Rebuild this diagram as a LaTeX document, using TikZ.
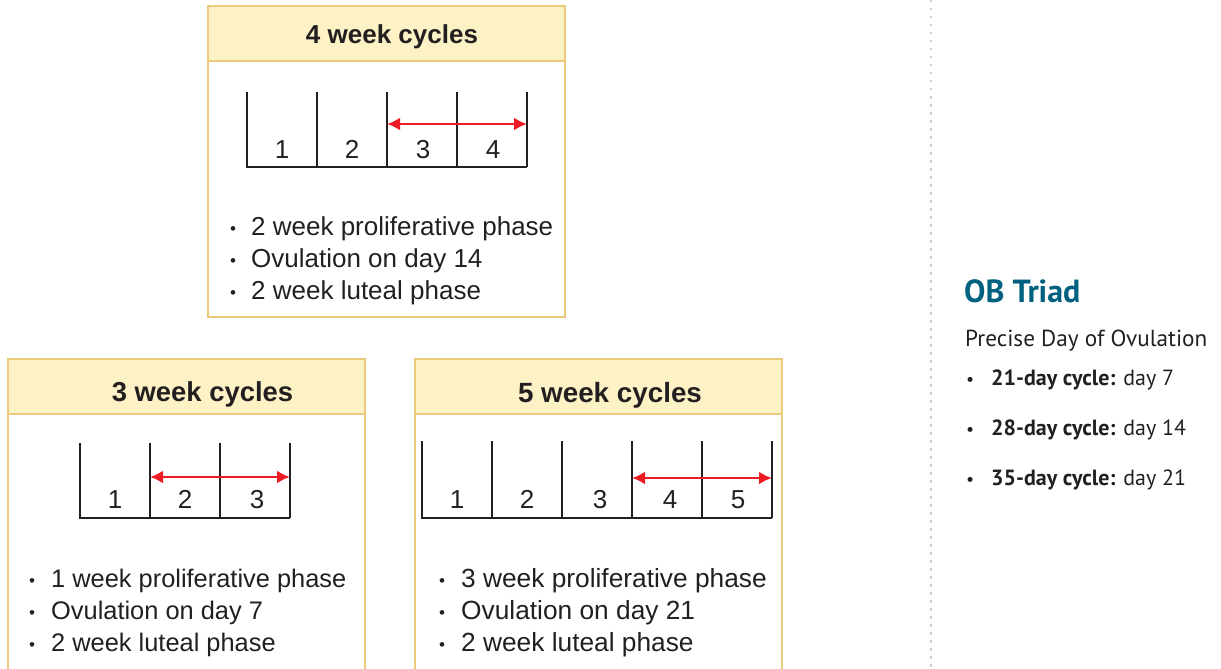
\documentclass[tikz,border=0pt]{standalone}
\usepackage{fontspec}
\setmainfont{Liberation Sans}
\newfontfamily\sidefont{PT Sans}
\usepackage{tikz}
\usetikzlibrary{positioning, calc, arrows.meta}
\definecolor{headfill}{HTML}{FDF2C6}
\definecolor{boxline}{HTML}{EBCB7B}
\definecolor{inkgrey}{HTML}{231F20}
\definecolor{spanred}{HTML}{ED1C24}
\definecolor{triadblue}{HTML}{00607F}
\definecolor{dotgrey}{HTML}{CDCDCD}
\tikzset{
  cyclebox/.style={draw=boxline, line width=2pt},
  cyclehead/.style={cyclebox, fill=headfill, inner sep=0pt},
  headtext/.style={text=inkgrey, font=\fontsize{#1}{30}\selectfont\bfseries, inner sep=0pt, anchor=base},
  headtext/.default=26,
  weektext/.style={text=inkgrey, font=\fontsize{#1}{30}\selectfont, inner sep=0pt},
  weektext/.default=26,
  cellline/.style={draw=inkgrey, line width=1.5pt},
  spanarrow/.style={draw=spanred, line width=2.8pt, {Latex[length=13pt,width=13pt]}-{Latex[length=13pt,width=13pt]}},
  sidetext/.style={text=inkgrey, font=\sidefont\fontsize{#1}{26}\selectfont, inner sep=0pt, anchor=base west},
  sidetext/.default=23.2
}
\newcommand{\blt}[1]{\makebox[#1][l]{\fontsize{17}{17}\selectfont\raisebox{1pt}{•}}}
\begin{document}
\begin{tikzpicture}[x=1pt, y=-1pt]
\useasboundingbox (0,0) rectangle (1221,669);

\draw[cyclebox] (208,6) rectangle (565,317);
\node[cyclehead, minimum width=357pt, minimum height=55pt] (head4) at (386.5,33.5) {};
\node[headtext] (title4) at (392,44) {4 week cycles};
\draw[cellline] (247,92) -- (247,167) -- (527,167);
\foreach \x in {317,387,457,527} \draw[cellline] (\x,92) -- (\x,167);
\node[weektext, anchor=base] (w4a) at (282,158) {1};
\node[weektext, anchor=base] (w4b) at (352,158) {2};
\node[weektext, anchor=base] (w4c) at (423,158) {3};
\node[weektext, anchor=base] (w4d) at (493,158) {4};
\coordinate (s4a) at (387,124);
\coordinate (s4b) at (527,124);
\draw[spanarrow] (s4a) -- (s4b);
\node[weektext, anchor=base west] (l4a) at (230,235) {\blt{21pt}2 week proliferative phase};
\node[weektext, anchor=base west] (l4b) at (230,267) {\blt{21pt}Ovulation on day 14};
\node[weektext, anchor=base west] (l4c) at (230,299) {\blt{21pt}2 week luteal phase};

\draw[cyclebox] (8,700) -- (8,359) -- (365,359) -- (365,700);
\node[cyclehead, minimum width=357pt, minimum height=55pt] (head3) at (186.5,386.5) {};
\node[headtext=27.4] (title3) at (202.5,401) {3 week cycles};
\draw[cellline] (80,443) -- (80,518) -- (290,518);
\foreach \x in {150,220,290} \draw[cellline] (\x,443) -- (\x,518);
\node[weektext, anchor=base] (w3a) at (115,508) {1};
\node[weektext, anchor=base] (w3b) at (185,508) {2};
\node[weektext, anchor=base] (w3c) at (257,508) {3};
\coordinate (s3a) at (150,477);
\coordinate (s3b) at (290,477);
\draw[spanarrow] (s3a) -- (s3b);
\node[weektext=25.4, anchor=base west] (l3a) at (29,587) {\blt{22pt}1 week proliferative phase};
\node[weektext=25.4, anchor=base west] (l3b) at (29,619) {\blt{22pt}Ovulation on day 7};
\node[weektext=25.4, anchor=base west] (l3c) at (29,651) {\blt{22pt}2 week luteal phase};

\draw[cyclebox] (415,700) -- (415,359) -- (782,359) -- (782,700);
\node[cyclehead, minimum width=367pt, minimum height=55pt] (head5) at (598.5,386.5) {};
\node[headtext=27.8] (title5) at (610,402) {5 week cycles};
\draw[cellline] (422,441) -- (422,518) -- (772,518);
\foreach \x in {492,562,632,702,772} \draw[cellline] (\x,441) -- (\x,518);
\node[weektext, anchor=base] (w5a) at (457,508) {1};
\node[weektext, anchor=base] (w5b) at (527,508) {2};
\node[weektext, anchor=base] (w5c) at (600,508) {3};
\node[weektext, anchor=base] (w5d) at (670,508) {4};
\node[weektext, anchor=base] (w5e) at (738,508) {5};
\coordinate (s5a) at (632,478);
\coordinate (s5b) at (772,478);
\draw[spanarrow] (s5a) -- (s5b);
\node[weektext=26.3, anchor=base west] (l5a) at (439,587) {\blt{22pt}3 week proliferative phase};
\node[weektext=26.3, anchor=base west] (l5b) at (439,619) {\blt{22pt}Ovulation on day 21};
\node[weektext=26.3, anchor=base west] (l5c) at (439,651) {\blt{22pt}2 week luteal phase};

\draw[dotgrey, line width=2.5pt, dash pattern=on 2.5pt off 5.5pt] (931,0) -- (931,669);

\node[sidetext, text=triadblue, font=\sidefont\fontsize{32}{36}\selectfont\bfseries] (triad) at (964,302) {OB Triad};
\node[sidetext] (precise) at (965,346) {Precise Day of Ovulation};
\node[sidetext=22] (d21) at (966,385) {\makebox[25pt][l]{\fontsize{18}{18}\selectfont•}\textbf{21-day cycle:} day 7};
\node[sidetext=22] (d28) at (966,435) {\makebox[25pt][l]{\fontsize{18}{18}\selectfont•}\textbf{28-day cycle:} day 14};
\node[sidetext=22] (d35) at (966,485) {\makebox[25pt][l]{\fontsize{18}{18}\selectfont•}\textbf{35-day cycle:} day 21};
\end{tikzpicture}
\end{document}
